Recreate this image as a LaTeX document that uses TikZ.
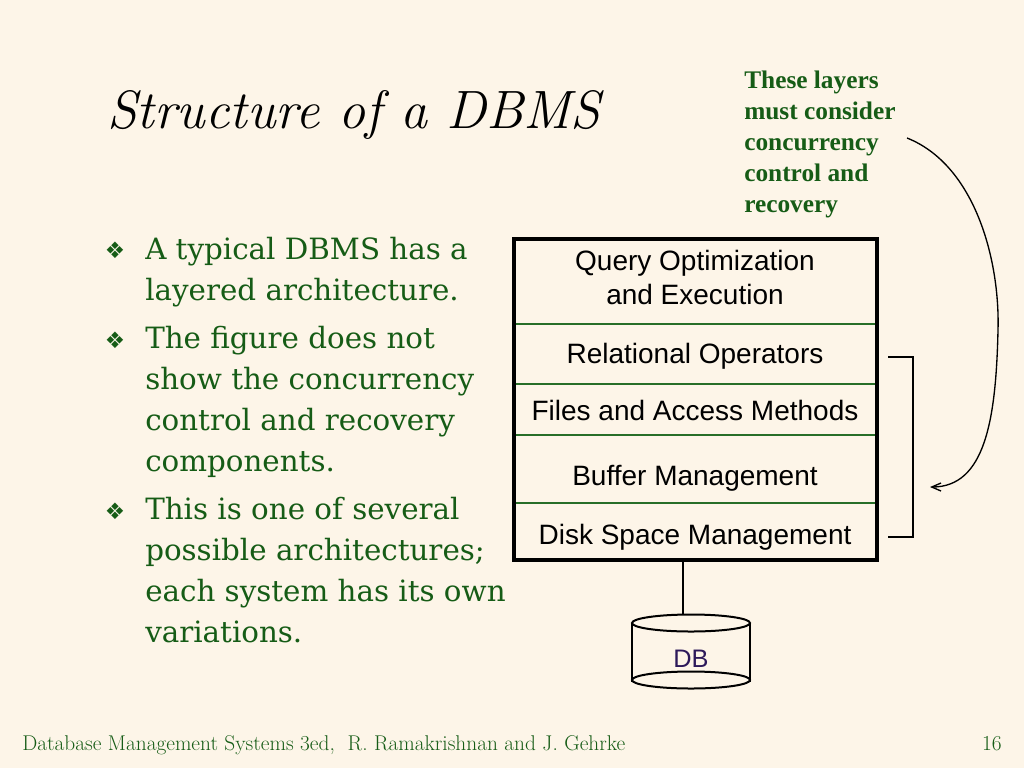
\documentclass[tikz,border=0pt]{standalone}
\usepackage{fontspec}
\setsansfont{Liberation Sans}
\newfontfamily\notefont{Liberation Serif}
\newfontfamily\symfont{DejaVu Sans}
\newfontfamily\bodyfont{DejaVu Serif}
\usetikzlibrary{arrows.meta}
\definecolor{bg}{RGB}{253,245,232}
\definecolor{tgreen}{RGB}{22,92,22}
\definecolor{lgreen}{RGB}{40,110,40}
\definecolor{dbcol}{RGB}{45,25,90}
\begin{document}
\begin{tikzpicture}[x=0.75pt,y=-0.75pt,
  bodyline/.style={anchor=base west,inner sep=0,text=tgreen,font=\bodyfont\fontsize{22}{28}\selectfont},
  bul/.style={inner sep=0,text=tgreen,font=\symfont\fontsize{17}{18}\selectfont},
  noteline/.style={anchor=base west,inner sep=0,text=tgreen,font=\notefont\bfseries\fontsize{19}{23}\selectfont},
  layertext/.style={anchor=base,inner sep=0,font=\sffamily\fontsize{21}{25}\selectfont},
  sep/.style={draw=lgreen,line width=0.9pt},
  thin/.style={line width=1pt}]
\useasboundingbox (0,0) rectangle (1024,768);
\fill[bg] (0,0) rectangle (1024,768);
% title
\node[anchor=base west,inner sep=0,font=\fontsize{40.5}{48}\itshape\selectfont] (title) at (107,128) {Structure of a DBMS};
% bullets
\node[bul] (b1) at (115,250) {❖};
\node[bul] (b2) at (115,340) {❖};
\node[bul] (b3) at (115,511) {❖};
% body
\node[bodyline] (l1) at (145,259) {A typical DBMS has a};
\node[bodyline] (l2) at (145,300) {layered architecture.};
\node[bodyline] (l3) at (145,348) {The figure does not};
\node[bodyline] (l4) at (145,389) {show the concurrency};
\node[bodyline] (l5) at (145,430) {control and recovery};
\node[bodyline] (l6) at (145,471) {components.};
\node[bodyline] (l7) at (145,519) {This is one of several};
\node[bodyline] (l8) at (145,560) {possible architectures;};
\node[bodyline] (l9) at (145,601) {each system has its own};
\node[bodyline] (l10) at (145,642) {variations.};
% note
\node[noteline] (n1) at (744,88) {These layers};
\node[noteline] (n2) at (744,119) {must consider};
\node[noteline] (n3) at (744,150) {concurrency};
\node[noteline] (n4) at (744,181) {control and};
\node[noteline] (n5) at (744,212) {recovery};
% stack
\draw[sep] (514,324) -- (877,324);
\draw[sep] (514,384) -- (877,384);
\draw[sep] (514,435) -- (877,435);
\draw[sep] (514,503) -- (877,503);
\node[draw,line width=3pt,inner sep=0,minimum width=363*0.75pt,minimum height=321*0.75pt] (stack) at (695.5,399.5) {};
\node[layertext] (q1) at (695,270) {Query Optimization};
\node[layertext] (q2) at (695,304) {and Execution};
\node[layertext] (rel) at (695,363) {Relational Operators};
\node[layertext] (fam) at (695,420) {Files and Access Methods};
\node[layertext] (buf) at (695,485) {Buffer Management};
\node[layertext] (dsm) at (695,544) {Disk Space Management};
% DB cylinder
\draw[line width=1.5pt] (632,623) -- (632,682) (750,623) -- (750,682);
\draw[line width=1.5pt,fill=bg] (691,680) ellipse [x radius=59,y radius=8.5];
\draw[line width=1.5pt,fill=bg] (691,623) ellipse [x radius=59,y radius=8.5];
\node[inner sep=0,anchor=base,text=dbcol,font=\sffamily\fontsize{19}{22}\selectfont] (db) at (691,667) {DB};
\coordinate (dbtop) at (683,615);
\draw[line width=1.5pt] (stack.south -| dbtop) -- (dbtop);
% bracket
\coordinate (br1) at (888,357);
\coordinate (br2) at (888,537);
\draw[thin] (br1) -- ++(25,0) |- (br2);
% curved arrow
\coordinate (as) at (907,138);
\coordinate (ae) at (930,487);
\draw[thin,-{Straight Barb[length=7pt,width=6pt]}] (as) .. controls (975,165) and (1000,260) .. (998,330) .. controls (996,420) and (985,487) .. (ae);
% footer
\node[anchor=base west,inner sep=0,text=tgreen,font=\fontsize{16}{18}\selectfont] (foot) at (22,750) {Database Management Systems 3ed,\ \ R. Ramakrishnan and J. Gehrke};
\node[anchor=base east,inner sep=0,text=tgreen,font=\fontsize{16}{18}\selectfont] (page) at (1002,750) {16};
\end{tikzpicture}
\end{document}
